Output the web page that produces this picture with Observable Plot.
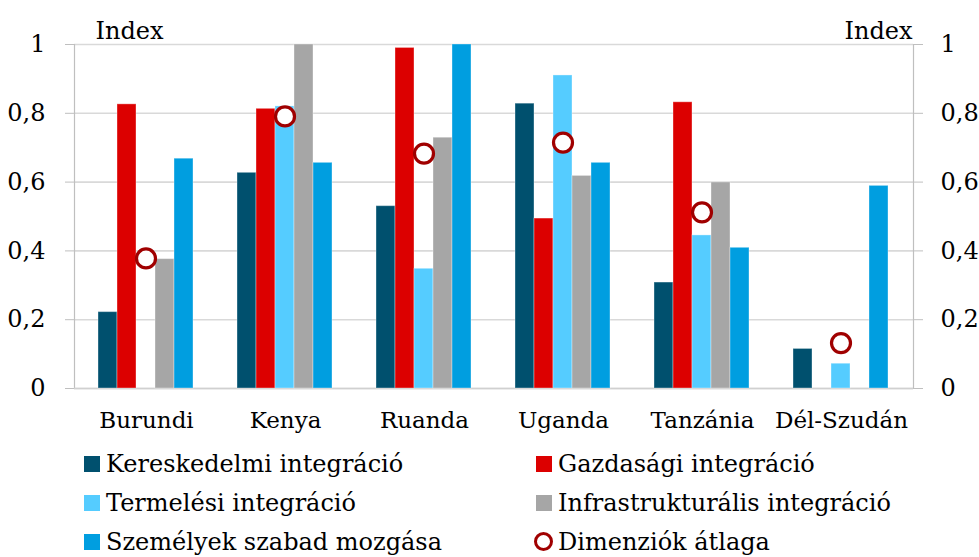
<!DOCTYPE html>
<html><head><meta charset="utf-8">
<script src="https://cdn.jsdelivr.net/npm/d3@7"></script>
<script src="https://cdn.jsdelivr.net/npm/@observablehq/plot@0.6"></script>
<style>
body{margin:0;background:#fff;font-family:"DejaVu Serif",serif;color:#000}
#wrap{position:relative;width:979px;height:444px}
#wrap svg{position:absolute;left:0;top:0}
#wrap svg text{font-family:"DejaVu Serif",serif}
#legend{display:grid;grid-template-columns:452px 400px;grid-auto-rows:39px;padding-left:84px;font-size:24px;line-height:30px}
.item{display:flex;align-items:center;white-space:nowrap}
.sw{width:16px;height:16px;margin-right:6px;flex:none}
.ring{width:13px;height:13px;border:3.2px solid #a00000;border-radius:50%;margin-right:5px;margin-left:-2px;flex:none}
</style>
</head><body>
<div id="wrap"></div>
<div id="legend"></div>
<script>
const categories = ["Burundi","Kenya","Ruanda","Uganda","Tanzánia","Dél-Szudán"];
const seriesNames = ["Kereskedelmi integráció","Gazdasági integráció","Termelési integráció","Infrastrukturális integráció","Személyek szabad mozgása"];
const avgName = "Dimenziók átlaga";
const colors = ["#00506e","#dc0000","#55ccff","#a6a6a6","#009ee0"];
const kereskedelmi = [0.222,0.627,0.530,0.828,0.308,0.115];
const gazdasagi    = [0.826,0.813,0.990,0.494,0.832,null];
const termelesi    = [null,0.820,0.348,0.910,0.445,0.072];
const infra        = [0.376,1.000,0.729,0.618,0.599,null];
const szemelyek    = [0.668,0.656,1.000,0.656,0.409,0.589];
const atlag        = [0.378,0.791,0.683,0.715,0.512,0.132];
const yTicks = [0,0.2,0.4,0.6,0.8,1];

const seriesValues = [kereskedelmi,gazdasagi,termelesi,infra,szemelyek];
const rows = [];
categories.forEach((c,i)=>seriesValues.forEach((vals,j)=>{
  if (vals[i] != null) rows.push({category:c, series:seriesNames[j], value:vals[i]});
}));
const avgRows = categories.map((c,i)=>({category:c, value:atlag[i]}));
const fmt = d => String(d).replace(".", ",");
const FONT = "DejaVu Serif, serif";

const common = {
  width:979, height:444,
  marginLeft:74, marginRight:66, marginTop:44, marginBottom:56,
  y:{domain:[0,1], axis:null}
};
const band = {domain:categories, paddingInner:0.3, paddingOuter:0.15, align:0.5};

const base = Plot.plot({
  ...common,
  style:{fontFamily:FONT, fontSize:"24px", color:"#000", background:"#fff"},
  x:{...band, axis:null},
  marks:[
    Plot.ruleY(yTicks, {stroke:"#d9d9d9", strokeWidth:1.6}),
    Plot.frame({anchor:"left", stroke:"#bfbfbf", strokeWidth:1.2}),
    Plot.frame({anchor:"right", stroke:"#bfbfbf", strokeWidth:1.2}),
    Plot.ruleY([0], {stroke:"#d0d0d0", strokeWidth:1.6}),
    Plot.axisY(yTicks, {anchor:"left", tickFormat:fmt, tickSize:9, tickPadding:20, stroke:"#bfbfbf", fill:"#000", fontSize:24}),
    Plot.axisY(yTicks, {anchor:"right", tickFormat:fmt, tickSize:9, tickPadding:18, stroke:"#bfbfbf", fill:"#000", fontSize:24}),
    Plot.axisX({tickSize:0, tickPadding:23, fontSize:23, fill:"#000"}),
    Plot.text(["Index"], {frameAnchor:"top-left", dx:21, dy:-6, textAnchor:"start", lineAnchor:"bottom", fontSize:24, fill:"#000"}),
    Plot.text(["Index"], {frameAnchor:"top-right", dx:-1, dy:-6, textAnchor:"end", lineAnchor:"bottom", fontSize:24, fill:"#000"})
  ]
});

const bars = Plot.plot({
  ...common,
  style:{background:"transparent"},
  fx:{...band, axis:null, label:null},
  x:{domain:seriesNames, padding:0, axis:null},
  color:{domain:seriesNames, range:colors},
  marks:[
    Plot.barY(rows, {fx:"category", x:"series", y:"value", fill:"series", stroke:"#ffffff", strokeOpacity:0.35, strokeWidth:1}),
    Plot.dot(avgRows, {fx:"category", y:"value", r:9.5, stroke:"#a00000", strokeWidth:3.2, fill:"#fff"})
  ]
});

const wrap = document.getElementById("wrap");
wrap.appendChild(base);
wrap.appendChild(bars);

const legend = document.getElementById("legend");
const order = [[0,"s"],[1,"s"],[2,"s"],[3,"s"],[4,"s"],[null,"r"]];
order.forEach(([j,kind])=>{
  const it = document.createElement("div"); it.className = "item";
  const sw = document.createElement("span");
  if (kind === "s") { sw.className = "sw"; sw.style.background = colors[j]; }
  else sw.className = "ring";
  const tx = document.createElement("span");
  tx.textContent = j === null ? avgName : seriesNames[j];
  it.appendChild(sw); it.appendChild(tx);
  legend.appendChild(it);
});
</script>
</body></html>
